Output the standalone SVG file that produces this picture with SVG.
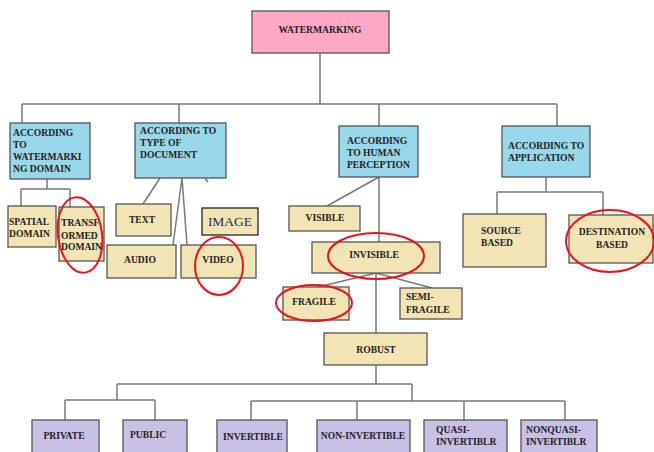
<svg xmlns="http://www.w3.org/2000/svg" width="654" height="452" viewBox="0 0 654 452">
<style>
.n{stroke:#555;stroke-width:1.3}
.pk{fill:#fda9c6}
.bl{fill:#99d8ea}
.bg{fill:#f2e4b4}
.pu{fill:#c9c0e6}
text{font-family:"Liberation Serif","Times New Roman",serif;font-weight:bold;font-size:9.6px;fill:#222}
.c{text-anchor:middle}
#conn path{fill:none;stroke:#7a7a7a;stroke-width:1.5}
.red{fill:none;stroke:#e8141c;stroke-width:2}
</style>
<rect width="654" height="452" fill="#fff"/>
<g id="conn">
<path d="M320 53V104M22 104H557M22 104V124M179 104V123M379 104V126M557 104V126"/>
<path d="M47 179V189M21 189H70M21 189V206M70 189V207"/>
<path d="M160 178L143 204M182 178L173 245M182 178L187 245M205 178L208 182"/>
<path d="M379 177L327 206M379 177V242"/>
<path d="M376 273L318 287M376 273L432 288M376 273V333"/>
<path d="M546 177V192M497 192H603M497 192V214M603 192V215"/>
<path d="M376 365V384M117 384H412M117 384V400M65 400H155M65 400V420M155 400V420M412 384V401M251 401H565M251 401V420M357 401V420M464 401V420M565 401V420"/>
</g>
<g id="watermarking"><rect class="n pk" x="252" y="11" width="137" height="42"/><text class="c" x="320" y="33">WATERMARKING</text></g>
<g id="domain"><rect class="n bl" x="10" y="123" width="80" height="56"/><text x="13" y="136">ACCORDING</text><text x="13" y="148">TO</text><text x="13" y="160">WATERMARKI</text><text x="13" y="172">NG DOMAIN</text></g>
<g id="doctype"><rect class="n bl" x="135" y="123" width="91" height="55"/><text x="140" y="134">ACCORDING TO</text><text x="140" y="146">TYPE OF</text><text x="140" y="158">DOCUMENT</text></g>
<g id="perception"><rect class="n bl" x="339" y="126" width="79" height="51"/><text x="347" y="144">ACCORDING</text><text x="347" y="156">TO HUMAN</text><text x="347" y="168">PERCEPTION</text></g>
<g id="application"><rect class="n bl" x="502" y="126" width="88" height="51"/><text x="508" y="149">ACCORDING TO</text><text x="508" y="161">APPLICATION</text></g>
<g id="spatial"><rect class="n bg" x="8" y="206" width="48" height="41"/><text x="9" y="225">SPATIAL</text><text x="9" y="237">DOMAIN</text></g>
<g id="transformed"><rect class="n bg" x="59" y="207" width="45" height="54"/><text x="61" y="226">TRANSF</text><text x="61" y="239">ORMED</text><text x="61" y="250">DOMAIN</text></g>
<g id="text"><rect class="n bg" x="116" y="204" width="55" height="32"/><text class="c" x="142" y="223">TEXT</text></g>
<g id="image"><rect x="202" y="208" width="56" height="27" fill="#f2e4b4" stroke="#222" stroke-width="1.3"/><text class="c" x="230" y="226" style="font-weight:normal;font-size:13.5px;fill:#2a2a4a">IMAGE</text></g>
<g id="audio"><rect class="n bg" x="107" y="245" width="69" height="33"/><text class="c" x="140" y="263">AUDIO</text></g>
<g id="video"><rect class="n bg" x="181" y="245" width="75" height="33"/><text class="c" x="218" y="263">VIDEO</text></g>
<g id="visible"><rect class="n bg" x="289" y="206" width="71" height="25"/><text class="c" x="325" y="221">VISIBLE</text></g>
<g id="invisible"><rect class="n bg" x="312" y="242" width="128" height="31"/><text class="c" x="374" y="258">INVISIBLE</text></g>
<g id="fragile"><rect class="n bg" x="283" y="287" width="66" height="33"/><text class="c" x="314" y="305">FRAGILE</text></g>
<g id="semifragile"><rect class="n bg" x="400" y="288" width="62" height="31"/><text x="406" y="300">SEMI-</text><text x="406" y="313">FRAGILE</text></g>
<g id="robust"><rect class="n bg" x="324" y="333" width="103" height="32"/><text class="c" x="376" y="353">ROBUST</text></g>
<g id="source"><rect class="n bg" x="463" y="214" width="83" height="53"/><text x="481" y="234">SOURCE</text><text x="481" y="246">BASED</text></g>
<g id="destination"><rect class="n bg" x="569" y="215" width="84" height="48"/><text class="c" x="612" y="235">DESTINATION</text><text class="c" x="612" y="248">BASED</text></g>
<g id="private"><rect class="n pu" x="32" y="420" width="67" height="40"/><text class="c" x="64" y="439">PRIVATE</text></g>
<g id="public"><rect class="n pu" x="123" y="420" width="64" height="40"/><text x="130" y="438">PUBLIC</text></g>
<g id="invertible"><rect class="n pu" x="217" y="420" width="70" height="40"/><text class="c" x="253" y="440">INVERTIBLE</text></g>
<g id="noninvertible"><rect class="n pu" x="317" y="420" width="93" height="40"/><text class="c" x="363" y="439">NON-INVERTIBLE</text></g>
<g id="quasi"><rect class="n pu" x="424" y="420" width="83" height="40"/><text x="436" y="433">QUASI-</text><text x="436" y="445">INVERTIBLR</text></g>
<g id="nonquasi"><rect class="n pu" x="521" y="420" width="76" height="40"/><text x="526" y="433">NONQUASI-</text><text x="526" y="445">INVERTIBLR</text></g>
<g id="highlights">
<ellipse class="red" cx="80" cy="235" rx="22" ry="38" transform="rotate(-8 80 235)"/>
<ellipse class="red" cx="219" cy="266" rx="24" ry="29"/>
<ellipse class="red" cx="376" cy="256" rx="48" ry="23"/>
<ellipse class="red" cx="314" cy="303" rx="38" ry="18"/>
<ellipse class="red" cx="610" cy="241" rx="44" ry="31"/>
</g>
</svg>
